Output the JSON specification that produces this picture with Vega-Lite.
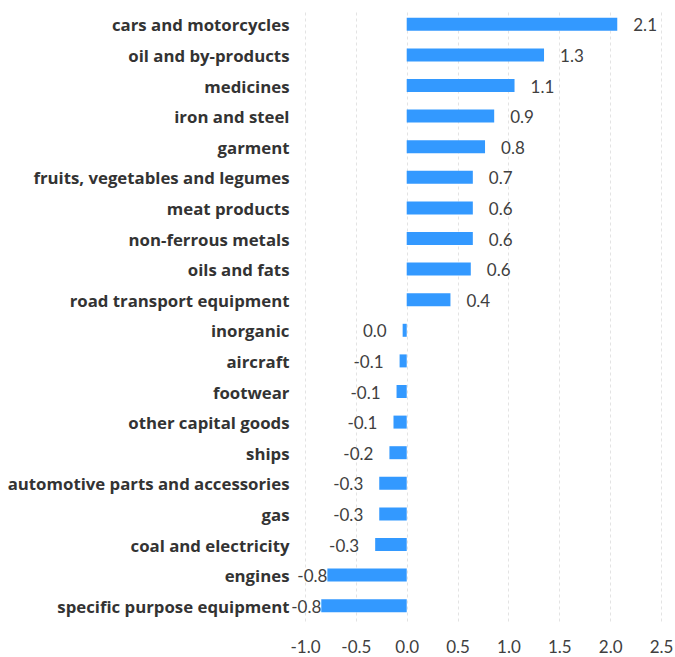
{
  "$schema": "https://vega.github.io/schema/vega-lite/v6.json",
  "autosize": {"type": "none"},
  "width": 356,
  "height": 612,
  "padding": {"left": 305, "top": 9, "right": 14, "bottom": 36},
  "background": "white",
  "config": {
    "view": {"stroke": null},
    "locale": {"number": {"decimal": ".", "thousands": ",", "grouping": [3], "currency": ["$", ""], "minus": "-"}},
    "font": "Lato"
  },
  "data": {
    "values": [
      {"category": "cars and motorcycles", "value": 2.07, "label": "2.1"},
      {"category": "oil and by-products", "value": 1.35, "label": "1.3"},
      {"category": "medicines", "value": 1.06, "label": "1.1"},
      {"category": "iron and steel", "value": 0.86, "label": "0.9"},
      {"category": "garment", "value": 0.77, "label": "0.8"},
      {"category": "fruits, vegetables and legumes", "value": 0.65, "label": "0.7"},
      {"category": "meat products", "value": 0.65, "label": "0.6"},
      {"category": "non-ferrous metals", "value": 0.65, "label": "0.6"},
      {"category": "oils and fats", "value": 0.63, "label": "0.6"},
      {"category": "road transport equipment", "value": 0.43, "label": "0.4"},
      {"category": "inorganic", "value": -0.04, "label": "0.0"},
      {"category": "aircraft", "value": -0.07, "label": "-0.1"},
      {"category": "footwear", "value": -0.1, "label": "-0.1"},
      {"category": "other capital goods", "value": -0.13, "label": "-0.1"},
      {"category": "ships", "value": -0.17, "label": "-0.2"},
      {"category": "automotive parts and accessories", "value": -0.27, "label": "-0.3"},
      {"category": "gas", "value": -0.27, "label": "-0.3"},
      {"category": "coal and electricity", "value": -0.31, "label": "-0.3"},
      {"category": "engines", "value": -0.78, "label": "-0.8"},
      {"category": "specific purpose equipment", "value": -0.84, "label": "-0.8"}
    ]
  },
  "encoding": {
    "y": {
      "field": "category", "type": "nominal", "sort": null,
      "axis": {"title": null, "domain": false, "ticks": false, "labelPadding": 16, "labelOffset": 2, "labelFontSize": 16.8, "labelFontWeight": "bold", "labelColor": "#333333", "labelFont": "Open Sans", "labelLimit": 400}
    }
  },
  "layer": [
    {
      "mark": {"type": "bar", "color": "#3399ff", "size": 13},
      "encoding": {
        "x": {
          "field": "value", "type": "quantitative",
          "scale": {"domain": [-1, 2.5], "nice": false, "zero": false},
          "axis": {"title": null, "values": [-1, -0.5, 0, 0.5, 1, 1.5, 2, 2.5], "format": ".1f", "domain": false, "ticks": false, "labelPadding": 18, "labelFlush": false, "labelBound": false, "labelFontSize": 17, "labelColor": "#404040", "labelFont": "Lato", "grid": true, "gridColor": "#e3e3e3", "gridDash": [3, 3], "gridWidth": 1}
        }
      }
    },
    {
      "mark": {"type": "rule", "color": "#a6a6a6", "strokeWidth": 3},
      "encoding": {"x": {"datum": 0}}
    },
    {
      "transform": [{"filter": "datum.value >= 0"}],
      "mark": {"type": "text", "align": "left", "baseline": "middle", "dx": 16, "dy": 2, "fontSize": 17, "color": "#404040", "font": "Lato"},
      "encoding": {"x": {"field": "value", "type": "quantitative"}, "text": {"field": "label"}}
    },
    {
      "transform": [{"filter": "datum.value < 0 && datum.value > -0.5"}],
      "mark": {"type": "text", "align": "right", "baseline": "middle", "dx": -16, "dy": 2, "fontSize": 17, "color": "#404040", "font": "Lato"},
      "encoding": {"x": {"field": "value", "type": "quantitative"}, "text": {"field": "label"}}
    },
    {
      "transform": [{"filter": "datum.value <= -0.5"}],
      "mark": {"type": "text", "align": "right", "baseline": "middle", "dx": 0, "dy": 2, "fontSize": 17, "color": "#404040", "font": "Lato"},
      "encoding": {"x": {"field": "value", "type": "quantitative"}, "text": {"field": "label"}}
    }
  ]
}
